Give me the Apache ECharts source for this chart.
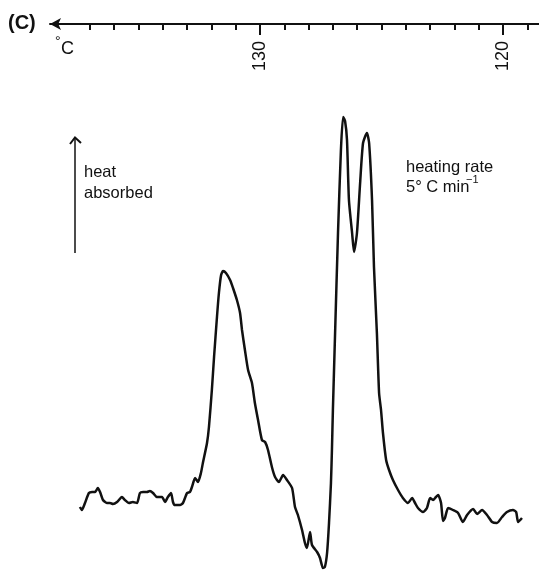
<!DOCTYPE html>
<html>
<head>
<meta charset="utf-8">
<script src="https://cdn.jsdelivr.net/npm/echarts@6/dist/echarts.min.js"></script>
<style>html,body{margin:0;padding:0;background:#fff}#c{width:539px;height:571px}</style>
</head>
<body>
<div id="c"></div>
<script>
// Temperature (°C) along the trace
const temps = [137.41,137.33,137.20,137.04,136.91,136.79,136.67,136.58,136.46,136.30,
136.17,136.05,135.88,135.68,135.56,135.39,135.23,135.06,134.94,134.81,
134.65,134.53,134.40,134.24,134.03,133.91,133.79,133.66,133.58,133.50,
133.29,133.17,133.00,132.88,132.80,132.67,132.55,132.43,132.35,132.18,
132.10,131.98,131.89,131.77,131.69,131.60,131.52,131.40,131.23,131.11,
130.95,130.82,130.74,130.62,130.49,130.33,130.21,130.08,129.92,129.79,
129.67,129.51,129.38,129.22,129.05,128.89,128.68,128.56,128.44,128.27,
128.15,128.07,127.94,127.86,127.65,127.53,127.41,127.33,127.24,127.16,
127.08,127.04,127.00,126.91,126.79,126.67,126.58,126.50,126.42,126.34,
126.21,126.13,126.01,125.88,125.76,125.60,125.51,125.39,125.31,125.19,
125.10,125.02,124.94,124.81,124.69,124.53,124.32,124.12,123.91,123.74,
123.62,123.50,123.29,123.13,123.00,122.88,122.76,122.67,122.55,122.47,
122.39,122.26,122.06,121.85,121.65,121.48,121.23,121.07,120.86,120.66,
120.45,120.25,120.04,119.84,119.59,119.46,119.38,119.22];
// Heat absorbed (arbitrary units)
const heat = [64,61,68,78,79,79,83,79,71,68,
68,67,69,74,71,68,69,68,78,79,
79,80,78,74,74,69,74,78,69,66,
66,68,78,79,84,93,89,98,108,128,
144,181,214,254,278,296,300,298,291,283,
271,258,241,221,201,188,168,151,131,129,
121,104,94,89,96,91,83,64,56,41,
28,23,39,26,19,13,3,4,18,48,
88,121,161,238,338,421,454,450,431,371,
338,319,338,388,428,438,428,371,304,238,
178,161,138,111,101,91,81,73,68,73,
68,63,59,63,73,71,74,76,68,50,
53,63,61,58,49,56,62,57,61,56,
49,48,54,59,61,59,49,53];
const minorTicks = [119,121,122,123,124,125,126,127,128,129,131,132,133,134,135,136,137];
const majorTicks = [120,130];
const xMin = 118.52, xMax = 138.64;

const chart = echarts.init(document.getElementById('c'), null, {renderer:'canvas'});
const FF = 'Liberation Sans';
const ink = '#111';
chart.setOption({
  animation:false,
  backgroundColor:'#fff',
  grid:{left:50,right:0,top:24,bottom:0},
  xAxis:[{
    type:'value',position:'top',inverse:true,min:xMin,max:xMax,
    axisLine:{show:true,onZero:false,lineStyle:{color:ink,width:2},symbol:['arrow','none'],symbolSize:[9,11]},
    axisTick:{show:true,inside:true,length:6,lineStyle:{color:ink,width:2},customValues:minorTicks},
    axisLabel:{show:false},splitLine:{show:false}
  },{
    type:'value',position:'top',inverse:true,min:xMin,max:xMax,
    axisLine:{show:false,onZero:false},
    axisTick:{show:true,inside:true,length:11,lineStyle:{color:ink,width:2},customValues:majorTicks},
    axisLabel:{show:true,inside:true,rotate:-90,margin:17,customValues:majorTicks,fontFamily:FF,fontSize:18,color:ink},
    splitLine:{show:false}
  }],
  yAxis:{type:'value',min:0,max:547,show:false},
  series:[{
    type:'line',xAxisIndex:0,yAxisIndex:0,
    data:temps.map((t,i)=>[t,heat[i]]),
    showSymbol:false,smooth:0.2,
    lineStyle:{color:ink,width:2.5}
  }],
  graphic:[
    {type:'text',x:8,y:23,style:{text:'(C)',fill:ink,font:'bold 20px "Liberation Sans"',verticalAlign:'middle'}},
    {type:'text',x:55,y:42,style:{text:'°',fill:ink,font:'14px "Liberation Sans"',verticalAlign:'middle'}},
    {type:'text',x:61,y:49,style:{text:'C',fill:ink,font:'18px "Liberation Sans"',verticalAlign:'middle'}},
    {type:'line',shape:{x1:75,y1:253,x2:75,y2:138},style:{stroke:ink,lineWidth:1.5}},
    {type:'polyline',shape:{points:[[70,144],[75,137.5],[81,143]]},style:{stroke:ink,lineWidth:2,fill:null}},
    {type:'text',x:84,y:172,style:{text:'heat',fill:ink,font:'16.5px "Liberation Sans"',verticalAlign:'middle'}},
    {type:'text',x:84,y:193,style:{text:'absorbed',fill:ink,font:'16.5px "Liberation Sans"',verticalAlign:'middle'}},
    {type:'text',x:406,y:167,style:{text:'heating rate',fill:ink,font:'16.5px "Liberation Sans"',verticalAlign:'middle'}},
    {type:'text',x:406,y:187,style:{text:'5° C min',fill:ink,font:'16.5px "Liberation Sans"',verticalAlign:'middle'}},
    {type:'text',x:466,y:180,style:{text:'−1',fill:ink,font:'11px "Liberation Sans"',verticalAlign:'middle'}}
  ]
});
</script>
</body>
</html>
